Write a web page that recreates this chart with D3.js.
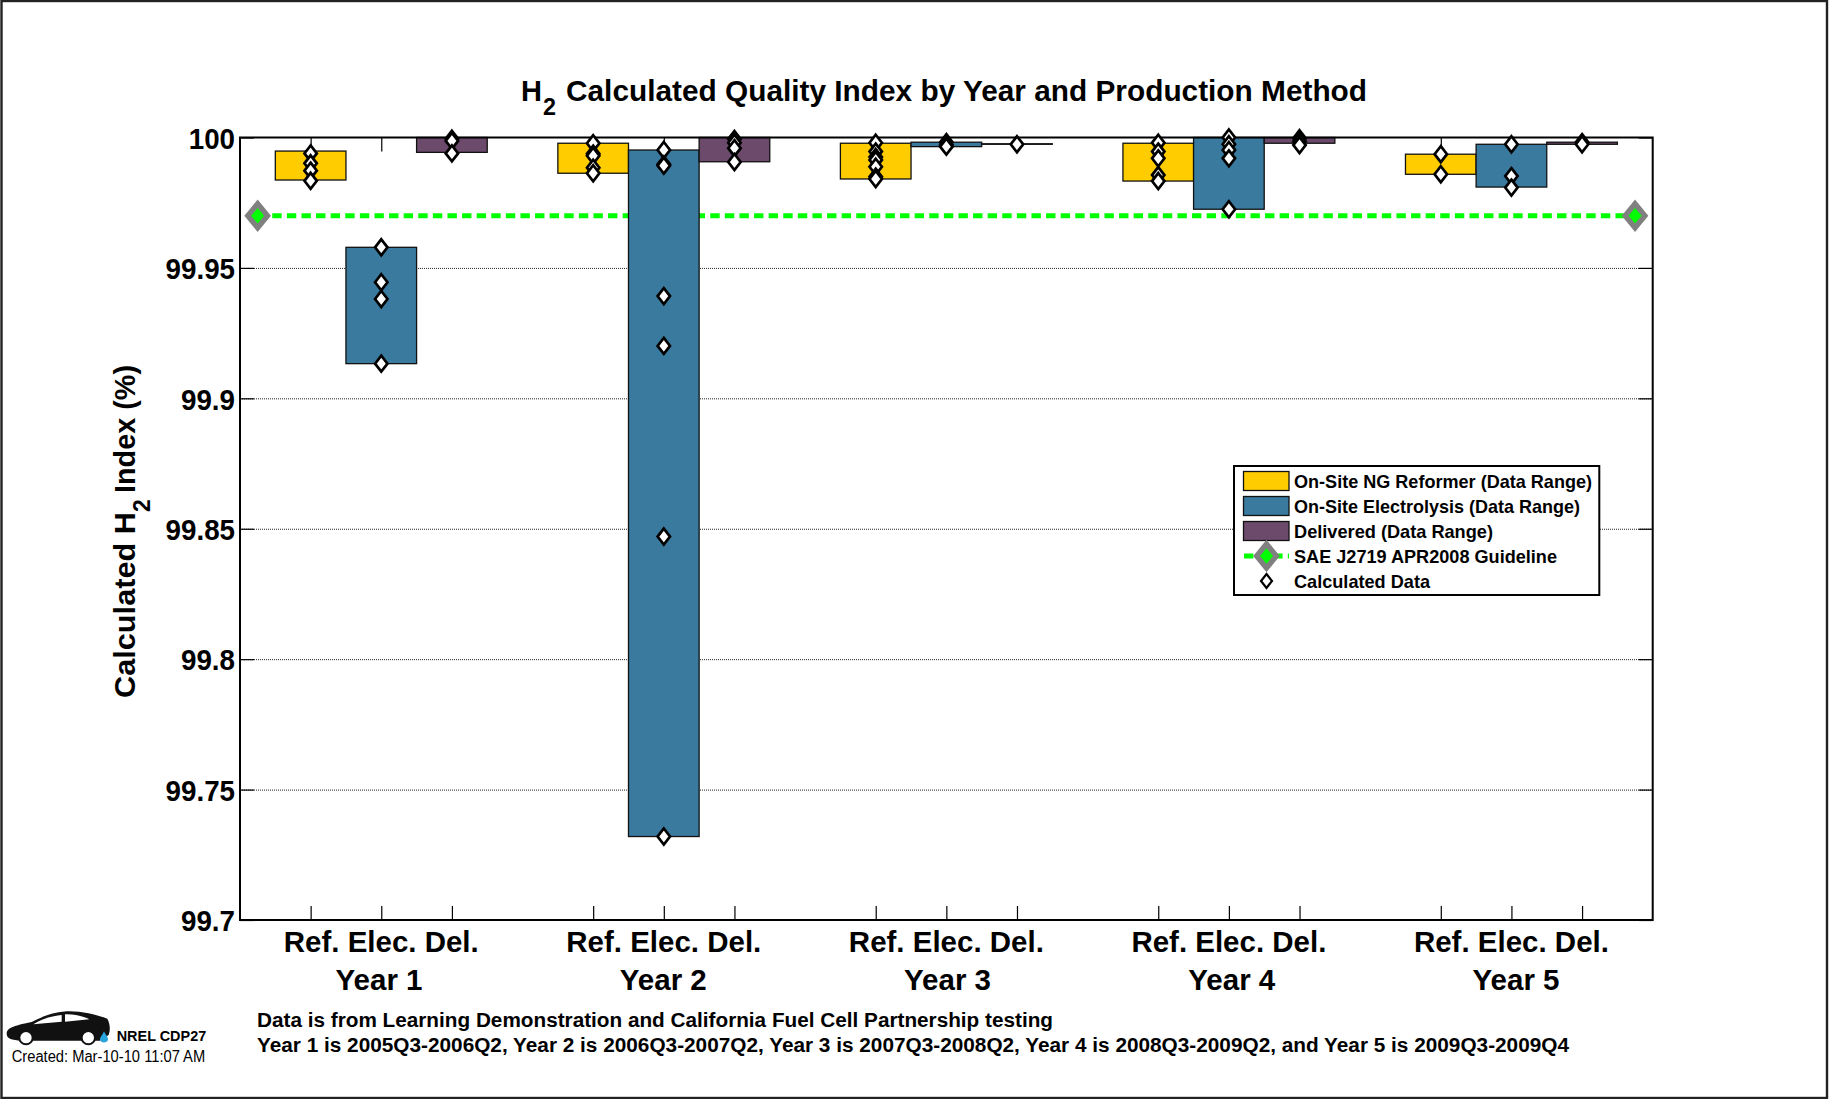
<!DOCTYPE html>
<html><head><meta charset="utf-8">
<script src="https://cdn.jsdelivr.net/npm/d3@7/dist/d3.min.js"></script>
<style>html,body{margin:0;padding:0;background:#fff}svg{display:block}text{font-family:"Liberation Sans",Arial,sans-serif;fill:#000}</style>
</head><body><svg id="c" width="1829" height="1099"></svg>
<script>
const years = ["Year 1","Year 2","Year 3","Year 4","Year 5"];
const methods = ["Ref.","Elec.","Del."];
const yTicks = [100,99.95,99.9,99.85,99.8,99.75,99.7];
const yLabels = ["100","99.95","99.9","99.85","99.8","99.75","99.7"];
const xTicks = [1,2,3,5,6,7,9,10,11,13,14,15,17,18,19];
const guideline = 99.97;
const refHigh = [99.9948,99.9978,99.9978,99.9978,99.9936];
const refLow  = [99.9837,99.9863,99.9841,99.9833,99.9859];
const elecHigh = [99.9579,99.9952,99.9982,100,99.9974];
const elecLow  = [99.9133,99.732,99.9965,99.9725,99.981];
const delHigh = [100,100,99.9976,100,99.9982];
const delLow  = [99.9943,99.9907,99.9974,99.9978,99.9974];
const refPoints = [
  [99.9939,99.9901,99.9873,99.9834],
  [99.9978,99.9938,99.993,99.9884,99.9863],
  [99.998,99.9946,99.9925,99.9914,99.9888,99.985,99.9841],
  [99.998,99.9946,99.992,99.9856,99.9833],
  [99.9936,99.9859]];
const elecPoints = [
  [99.9579,99.9445,99.9381,99.9133],
  [99.9952,99.9897,99.9892,99.9392,99.9201,99.847,99.732],
  [99.9982,99.9971,99.9965],
  [100,99.9974,99.9952,99.992,99.9725],
  [99.9974,99.9852,99.9808]];
const delPoints = [
  [99.9995,99.9987,99.9939],
  [99.9994,99.998,99.9959,99.9906],
  [99.9974],
  [99.9997,99.9985,99.9971],
  [99.9982,99.9974]];
const legendItems = ["On-Site NG Reformer (Data Range)","On-Site Electrolysis (Data Range)","Delivered (Data Range)","SAE J2719 APR2008 Guideline","Calculated Data"];
const colors = {ref:"#FFCC00",elec:"#3A7A9E",del:"#6B4A6B",guide:"#00FF00",gray:"#808080"};

const svg = d3.select("#c");
const L=240,R=1652.7,T=137.5,B=920;
const x = d3.scaleLinear().domain([0,20]).range([L,R]);
const y = d3.scaleLinear().domain([99.7,100]).range([B,T]);
const groupX = i => 1+4*i;
const yearX = d3.scaleLinear().domain([0,4]).range([379,1516]);

// frame
svg.append("rect").attr("x",1.5).attr("y",1).attr("width",1825.5).attr("height",1097).attr("fill","#fff").attr("stroke","#222").attr("stroke-width",2.4);

// grid
const grid = svg.append("g").attr("transform",`translate(${L},0)`)
  .call(d3.axisLeft(y).tickValues(yTicks.slice(1,-1)).tickSize(-(R-L)).tickFormat(""));
grid.select(".domain").remove();
grid.selectAll("line").attr("stroke","#222").attr("stroke-width",1).attr("stroke-dasharray","1 1");

// guideline
svg.append("line").attr("x1",x(0.25)).attr("x2",x(19.75)).attr("y1",y(guideline)).attr("y2",y(guideline))
  .attr("stroke",colors.guide).attr("stroke-width",5).attr("stroke-dasharray","9.4 5.2");

const diamond=(hw,hh)=>`M0,${-hh}L${hw},0L0,${hh}L${-hw},0Z`;
function guideMark(sel,px,py){
  const g=sel.append("g").attr("transform",`translate(${px},${py})`);
  g.append("path").attr("d",diamond(13.3,16.3)).attr("fill",colors.gray);
  g.append("path").attr("d",diamond(6.5,7.8)).attr("fill",colors.guide);
}
[0.25,19.75].forEach(v=>guideMark(svg,x(v),y(guideline)));

// ticks on all four sides, below the bars
const tl=14;
const axB = svg.append("g").attr("transform",`translate(0,${B})`).call(d3.axisBottom(x).tickValues(xTicks).tickSize(-tl).tickFormat(""));
const axT = svg.append("g").attr("transform",`translate(0,${T})`).call(d3.axisTop(x).tickValues(xTicks).tickSize(-tl).tickFormat(""));
const axL = svg.append("g").attr("transform",`translate(${L},0)`).call(d3.axisLeft(y).tickValues(yTicks).tickSize(-tl).tickFormat((d,i)=>yLabels[i]).tickPadding(5));
const axR = svg.append("g").attr("transform",`translate(${R},0)`).call(d3.axisRight(y).tickValues(yTicks).tickSize(-tl).tickFormat(""));
[axB,axT,axL,axR].forEach(a=>{a.select(".domain").remove();a.selectAll("line").attr("stroke","#000").attr("stroke-width",1.2);});
axL.selectAll("text").attr("font-size",30).attr("font-weight","bold").attr("font-family","Liberation Sans").attr("fill","#000")
   .attr("x",-5).attr("dy","0.36em")
   .each(function(){const n=this.getComputedTextLength();d3.select(this).attr("textLength",n*0.925).attr("lengthAdjust","spacingAndGlyphs");});

// bars
const series=[["ref",refHigh,refLow,refPoints,0],["elec",elecHigh,elecLow,elecPoints,1],["del",delHigh,delLow,delPoints,2]];
series.forEach(([k,hi,lo,pts,off])=>{
  svg.append("g").selectAll("rect").data(years).join("rect")
    .attr("x",(d,i)=>x(groupX(i)+off-0.5))
    .attr("width",x(1)-x(0))
    .attr("y",(d,i)=>y(hi[i]))
    .attr("height",(d,i)=>y(lo[i])-y(hi[i]))
    .attr("fill",colors[k]).attr("stroke","#111").attr("stroke-width",1.3);
});
// axes box
svg.append("rect").attr("x",L).attr("y",T).attr("width",R-L).attr("height",B-T).attr("fill","none").attr("stroke","#000").attr("stroke-width",2);

// data points
series.forEach(([k,hi,lo,pts,off])=>{
  pts.forEach((arr,i)=>{
    svg.append("g").selectAll("path").data(arr).join("path")
      .attr("transform",d=>`translate(${x(groupX(i)+off)},${y(d)})`)
      .attr("d",diamond(6.2,8)).attr("fill","#fff").attr("stroke","#000").attr("stroke-width",2.7);
  });
});

// labels
function txt(str,px,py,size,opt={}){
  const t=svg.append("text").attr("x",px).attr("y",py).attr("font-size",size).attr("font-weight",opt.w||"bold").text(str);
  if(opt.a)t.attr("text-anchor",opt.a);
  if(opt.len)t.attr("textLength",opt.len).attr("lengthAdjust","spacingAndGlyphs");
  return t;
}
years.forEach((yr,i)=>{
  txt(methods.join(" "),x(groupX(i)+1),951.7,30,{a:"middle",len:195});
  txt(yr,yearX(i),990,30,{a:"middle",len:87});
});
// title
txt("H",521,100.7,30,{len:21});
txt("2",543,115,24,{len:13});
txt("Calculated Quality Index by Year and Production Method",566,100.7,30,{len:801});
// y label
const yl=svg.append("g").attr("transform","translate(135,698) rotate(-90)");
yl.append("text").attr("font-size",29).attr("font-weight","bold").attr("textLength",186).attr("lengthAdjust","spacingAndGlyphs").text("Calculated H");
yl.append("text").attr("x",186).attr("y",15).attr("font-size",23).attr("font-weight","bold").text("2");
yl.append("text").attr("x",205).attr("font-size",29).attr("font-weight","bold").attr("textLength",128).attr("lengthAdjust","spacingAndGlyphs").text("Index (%)");

// footnotes
txt("Data is from Learning Demonstration and California Fuel Cell Partnership testing",257,1027,20,{len:796});
txt("Year 1 is 2005Q3-2006Q2, Year 2 is 2006Q3-2007Q2, Year 3 is 2007Q3-2008Q2, Year 4 is 2008Q3-2009Q2, and Year 5 is 2009Q3-2009Q4",257,1051.7,20,{len:1312});

// logo
const logo=svg.append("g").attr("transform","translate(0,990) scale(0.3333)");
logo.append("path").attr("fill","#111").attr("d","M20,130 C22,115 35,108 95,96 C120,84 150,68 200,64 C240,62 290,74 322,86 C330,100 332,120 326,135 L300,152 L60,152 C30,150 20,145 20,130Z");
logo.append("path").attr("fill","#fff").attr("d","M100,103 C120,90 150,78 185,75 L185,95 Z");
logo.append("path").attr("fill","#fff").attr("d","M195,73 C220,72 250,78 268,88 L195,95 Z");
[78,265].forEach(c=>logo.append("circle").attr("cx",c).attr("cy",143).attr("r",20).attr("fill","#fff").attr("stroke","#111").attr("stroke-width",6));
logo.append("path").attr("fill","#29A3DC").attr("d","M312,124 C318,136 325,142 324,149 C322,160 302,160 300,149 C300,142 307,136 312,124Z");
txt("NREL CDP27",116.7,1041,15,{len:89.5});
txt("Created: Mar-10-10 11:07 AM",11.7,1061.7,16,{w:"normal",len:193.5});

// legend
const lg=svg.append("g");
lg.append("rect").attr("x",1234).attr("y",466).attr("width",365.3).attr("height",129).attr("fill","#fff").attr("stroke","#000").attr("stroke-width",2);
const legRowY=d3.scalePoint().domain(d3.range(5)).range([481,581]);
["ref","elec","del"].forEach((k,i)=>{
  lg.append("rect").attr("x",1243.5).attr("y",legRowY(i)-9.5).attr("width",45.5).attr("height",19).attr("fill",colors[k]).attr("stroke","#111").attr("stroke-width",1.3);
});
lg.append("line").attr("x1",1244).attr("x2",1289).attr("y1",legRowY(3)).attr("y2",legRowY(3)).attr("stroke",colors.guide).attr("stroke-width",5).attr("stroke-dasharray","9.4 5.2");
guideMark(lg,1266.5,legRowY(3));
lg.append("path").attr("transform",`translate(1266.5,${legRowY(4)})`).attr("d",diamond(5.5,7)).attr("fill","#fff").attr("stroke","#000").attr("stroke-width",2.2);
const legLen=[298,286,199,263,136];
legendItems.forEach((s,i)=>{
  txt(s,1294,legRowY(i)+6.7,19,{len:legLen[i]});
});
</script></body></html>
